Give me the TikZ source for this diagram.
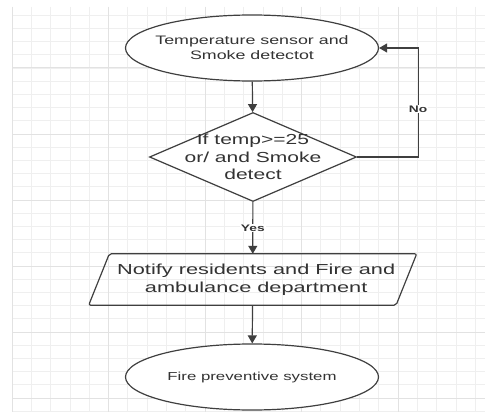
\documentclass[tikz,border=0pt]{standalone}
\usepackage{fontspec}
\usetikzlibrary{shapes.geometric,arrows.meta}
\newfontfamily\flowfont[FakeStretch=1.45]{Liberation Sans}
\newfontfamily\wideflowfont[FakeStretch=1.5]{Liberation Sans}
\definecolor{gridminor}{HTML}{EFEFEF}
\definecolor{gridmajor}{HTML}{E2E2E2}
\definecolor{flowline}{HTML}{3F3F3F}
\definecolor{flowtext}{HTML}{333333}
\tikzset{
	terminal/.style={draw=flowline,line width=1.2pt,ellipse,fill=white,inner sep=0pt,minimum width=253pt,minimum height=66pt},
	decision/.style={draw=flowline,line width=1.2pt,diamond,fill=white,inner sep=0pt,minimum width=207pt,minimum height=89pt},
	iobox/.style={inner sep=0pt,minimum width=307pt,minimum height=51pt},
	flow/.style={draw=flowline,line width=1.2pt,-{Triangle[width=9pt,length=8pt]}},
	smalltext/.style={text=flowtext,align=center,font=\flowfont\fontsize{11.6pt}{15pt}\selectfont},
	bigtext/.style={text=flowtext,align=center,font=\flowfont\fontsize{14.5pt}{17.5pt}\selectfont},
	widetext/.style={text=flowtext,align=center,font=\wideflowfont\fontsize{14.5pt}{18pt}\selectfont},
	answer/.style={text=flowtext,fill=white,inner sep=1pt,font=\flowfont\bfseries\fontsize{9.5pt}{11pt}\selectfont}
}
\begin{document}
\begin{tikzpicture}[x=1pt,y=-1pt]
	\useasboundingbox[fill=white] (0,0) rectangle (485,412);
	% grid
	\foreach \gx in {0,...,24}
		\draw[gridminor,line width=0.8pt] ({12+19.3*\gx},7) -- ({12+19.3*\gx},412);
	\foreach \gy in {0,...,30}
		\draw[gridminor,line width=0.8pt] (12,{15.2+13.2*\gy}) -- (485,{15.2+13.2*\gy});
	\foreach \gx in {0,5,10,15,20}
		\draw[gridmajor,line width=1pt] ({12+19.3*\gx},7) -- ({12+19.3*\gx},412);
	\foreach \gy in {4,9,14,19,24,29}
		\draw[gridmajor,line width=1pt] (12,{15.2+13.2*\gy}) -- (485,{15.2+13.2*\gy});

	% shapes
	\node[terminal,label={[smalltext,font=\flowfont\fontsize{12.3pt}{15pt}\selectfont]center:Temperature sensor and\\Smoke detectot}] (sensor) at (252,48) {};
	\node[decision,label={[bigtext]center:If temp>=25\\or/ and Smoke\\detect}] (check) at (253,157) {};
	\node[iobox,label={[widetext,xshift=3.5pt]center:Notify residents and Fire and\\ambulance department}] (notify) at (252.7,279.5) {};
	\draw[flowline,line width=1.2pt,rounded corners=2pt]
		([xshift=10.3pt]notify.north west) -- ([xshift=10.3pt]notify.north east)
		-- ([xshift=-10.3pt]notify.south east) -- ([xshift=-10.3pt]notify.south west) -- cycle;
	\node[terminal,label={[smalltext]center:Fire preventive system}] (system) at (252,377) {};

	% connectors
	\draw[flow] (sensor) -- (check);
	\draw[flow] (check) -- node[answer] {Yes} (notify);
	\draw[flow] (notify) -- (system);
	\draw[flow] (check.east) -- ++(61,0) |- node[answer,pos=0.22] {No} (sensor.east);
\end{tikzpicture}
\end{document}
